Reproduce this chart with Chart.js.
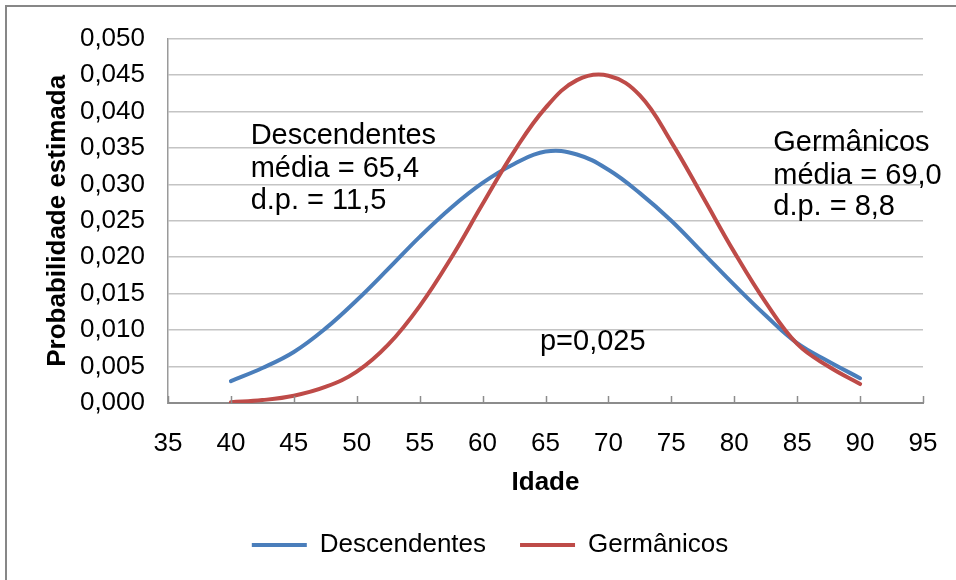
<!DOCTYPE html>
<html lang="pt">
<head>
<meta charset="utf-8">
<script src="https://cdn.jsdelivr.net/npm/chart.js@4/dist/chart.umd.min.js"></script>
<style>
  html, body { margin: 0; padding: 0; background: #fff; overflow: hidden; }
  #wrap { position: relative; width: 956px; height: 580px; }
  #frame { position: absolute; left: 5px; top: 5px; width: 1000px; height: 1000px;
           border-left: 2px solid #878787; border-top: 2px solid #878787; }
  #chart { position: absolute; left: 0; top: 0; }
</style>
</head>
<body>
<div id="wrap">
  <div id="frame"></div>
  <canvas id="chart" width="956" height="580"></canvas>
</div>
<script>
// idades (eixo x) e densidades estimadas
const idades = [40, 42.5, 45, 47.5, 50, 52.5, 55, 57.5, 60, 62.5, 65, 67.5, 70, 72.5, 75, 77.5, 80, 82.5, 85, 87.5, 90];
const descendentes = [0.0030, 0.0048, 0.0070, 0.0102, 0.0141, 0.0184, 0.0228, 0.0268, 0.0302, 0.0328, 0.0345, 0.0341,
  0.0320, 0.0288, 0.0250, 0.0206, 0.0162, 0.0120, 0.0082, 0.0057, 0.0034];
const germanicos = [0.0001, 0.0004, 0.0010, 0.0022, 0.0043, 0.0080, 0.0133, 0.0199, 0.0273, 0.0345, 0.0405, 0.0443,
  0.0449, 0.0422, 0.0358, 0.0283, 0.0207, 0.0138, 0.0081, 0.0050, 0.0026];

const xMin = 35, xMax = 95, xStep = 5;
const yMin = 0, yMax = 0.05, yStep = 0.005;

const FONT = "'Liberation Sans', Arial, sans-serif";

// caixas de texto (em coordenadas dos dados: x = idade, y = linha de base)
const notas = [
  { x: 41.57, y: [0.0355, 0.0310, 0.02656], linhas: ['Descendentes', 'média = 65,4', 'd.p. = 11,5'] },
  { x: 83.1, y: [0.03461, 0.03007, 0.02577], linhas: ['Germânicos', 'média = 69,0', 'd.p. = 8,8'] },
  { x: 64.56, y: [0.0073], linhas: ['p=0,025'] },
];

const pontos = (ys) => idades.map((x, i) => ({ x, y: ys[i] }));

// marcas do eixo x para dentro da área do gráfico + anotações
const extras = {
  id: 'extras',
  afterDraw(chart) {
    const { ctx, scales: { x, y } } = chart;
    ctx.save();
    ctx.strokeStyle = '#8c8c8c';
    ctx.lineWidth = 1.5;
    for (const t of x.ticks) {
      const px = Math.round(x.getPixelForValue(t.value)) + 0.5;
      ctx.beginPath();
      ctx.moveTo(px, y.bottom);
      ctx.lineTo(px, y.bottom - 7);
      ctx.stroke();
    }
    ctx.fillStyle = '#000';
    ctx.font = '29px ' + FONT;
    ctx.textAlign = 'left';
    ctx.textBaseline = 'alphabetic';
    for (const n of notas) {
      n.linhas.forEach((txt, i) => {
        ctx.fillText(txt, x.getPixelForValue(n.x), y.getPixelForValue(n.y[i]));
      });
    }
    ctx.restore();
  },
};

new Chart(document.getElementById('chart'), {
  type: 'line',
  data: {
    datasets: [
      {
        label: 'Descendentes',
        data: pontos(descendentes),
        borderColor: '#4A7EBB',
        backgroundColor: '#4A7EBB',
        borderWidth: 4,
        borderCapStyle: 'round',
        pointRadius: 0,
        tension: 0.4,
        order: 1,
      },
      {
        label: 'Germânicos',
        data: pontos(germanicos),
        borderColor: '#BE4B48',
        backgroundColor: '#BE4B48',
        borderWidth: 4,
        borderCapStyle: 'round',
        pointRadius: 0,
        tension: 0.4,
        order: 0,
      },
    ],
  },
  options: {
    responsive: false,
    animation: false,
    layout: { padding: { left: 57, right: 33, top: 35, bottom: 12 } },
    plugins: {
      tooltip: { enabled: false },
      legend: {
        position: 'bottom',
        labels: {
          usePointStyle: true,
          pointStyle: 'line',
          pointStyleWidth: 55,
          padding: 34,
          color: '#000',
          font: { family: FONT, size: 26 },
          sort: (a, b) => a.datasetIndex - b.datasetIndex,
        },
      },
    },
    scales: {
      x: {
        type: 'linear',
        min: xMin,
        max: xMax,
        afterFit: (s) => { s.height = 95; },
        ticks: {
          stepSize: xStep,
          padding: 17,
          color: '#000',
          font: { family: FONT, size: 26 },
        },
        grid: { display: false },
        border: { display: true, color: '#8c8c8c', width: 2 },
        title: {
          display: true,
          text: 'Idade',
          color: '#000',
          font: { family: FONT, size: 26, weight: 'bold' },
          padding: { top: 7, bottom: 0 },
        },
      },
      y: {
        min: yMin,
        max: yMax,
        afterFit: (s) => { s.width = 111; },
        ticks: {
          stepSize: yStep,
          padding: 23,
          color: '#000',
          font: { family: FONT, size: 26 },
          callback: (v) => v.toFixed(3).replace('.', ','),
        },
        grid: { color: '#c4c4c4', lineWidth: 1.5, drawTicks: false },
        border: { display: true, color: '#9a9a9a', width: 1.5 },
        title: {
          display: true,
          text: 'Probabilidade estimada',
          color: '#000',
          font: { family: FONT, size: 26, weight: 'bold' },
          padding: { top: -14.6, bottom: 0 },
        },
      },
    },
  },
  plugins: [extras],
});
</script>
</body>
</html>
